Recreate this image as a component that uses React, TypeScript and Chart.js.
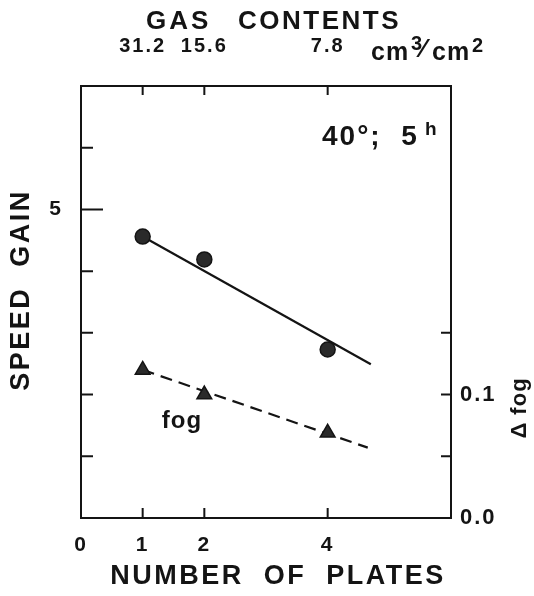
import React, { useEffect, useRef } from "react";
import { Chart, registerables } from "chart.js";

Chart.register(...registerables);

// ---- data ----
const plates = [1, 2, 4];
const speedGain = [4.56, 4.19, 2.73];
const fogDelta = [0.12, 0.1, 0.069];
const speedFitX = [1, 4.7];
const speedFitY = [4.56, 2.49];
const fogFitX = [1, 4.65];
const fogFitY = [0.12, 0.057];
const bottomTicks = [0, 1, 2, 4];
const topTicks = [1, 2, 4];
const gasContents = ["31.2", "15.6", "7.8"];
const leftTicks = [1, 2, 3, 4, 5, 6];
const leftLabelled = [5];
const rightTicks = [0, 0.05, 0.1, 0.15];
const rightLabels: Record<string, string> = { "0": "0.0", "0.1": "0.1" };

const INK = "#141414";
const FONT = "'Liberation Sans', Arial, sans-serif";

const decor = {
  id: "decor",
  beforeDraw(chart: any) {
    chart.ctx.letterSpacing = "2px";
  },
  afterDraw(chart: any) {
    const ctx = chart.ctx;
    const { left, right, top, bottom } = chart.chartArea;
    const sx = chart.scales.x;
    const sy = chart.scales.y;
    const sy2 = chart.scales.y2;
    ctx.save();
    ctx.strokeStyle = INK;
    ctx.lineWidth = 2;
    ctx.beginPath();
    leftTicks.forEach((v) => {
      const py = sy.getPixelForValue(v);
      const len = v === 5 ? 22 : 12;
      ctx.moveTo(left, py);
      ctx.lineTo(left + len, py);
    });
    rightTicks.forEach((v) => {
      if (v === 0) return;
      const py = sy2.getPixelForValue(v);
      ctx.moveTo(right, py);
      ctx.lineTo(right - 10, py);
    });
    topTicks.forEach((v) => {
      const px = sx.getPixelForValue(v);
      ctx.moveTo(px, bottom);
      ctx.lineTo(px, bottom - 10);
      ctx.moveTo(px, top);
      ctx.lineTo(px, top + 9);
    });
    ctx.stroke();

    ctx.fillStyle = INK;
    const txt = (s: string, x: number, y: number, font: string, ls: string, align: CanvasTextAlign = "center", rot = 0) => {
      ctx.save();
      ctx.font = font;
      ctx.letterSpacing = ls;
      ctx.textAlign = align;
      ctx.textBaseline = "middle";
      ctx.translate(x, y);
      if (rot) ctx.rotate(rot);
      ctx.fillText(s, 0, 0);
      ctx.restore();
    };
    txt("GAS", 146, 22, `bold 26px ${FONT}`, "3px", "left");
    txt("CONTENTS", 238, 22, `bold 26px ${FONT}`, "2.5px", "left");
    txt("NUMBER  OF  PLATES", 278, 577, `bold 27px ${FONT}`, "2.5px");
    txt("SPEED  GAIN", 22, 290, `bold 27px ${FONT}`, "2.5px", "center", -Math.PI / 2);
    txt("\u0394 fog", 520, 408, `bold 22px ${FONT}`, "1px", "center", -Math.PI / 2);
    txt("fog", 182, 421, `bold 24px ${FONT}`, "1px");
    txt("40\u00b0;  5", 322, 137, `bold 28px ${FONT}`, "2px", "left");
    txt("h", 425, 130, `bold 19px ${FONT}`, "0px", "left");
    txt("cm", 371, 53, `bold 25px ${FONT}`, "1px", "left");
    txt("3", 411, 44, `bold 20px ${FONT}`, "0px", "left");
    txt("\u2044", 421, 50, `bold 26px ${FONT}`, "0px", "left");
    txt("cm", 432, 53, `bold 25px ${FONT}`, "1px", "left");
    txt("2", 472, 46, `bold 20px ${FONT}`, "0px", "left");
    ctx.restore();
  },
};

export default function App() {
  const ref = useRef<HTMLCanvasElement | null>(null);
  useEffect(() => {
    if (!ref.current) return;
    const tickFont = { family: FONT, size: 21, weight: "bold" as const };
    const chart = new Chart(ref.current, {
      type: "scatter",
      data: {
        datasets: [
          {
            label: "speed gain",
            data: plates.map((x, i) => ({ x, y: speedGain[i] })),
            pointStyle: "circle",
            pointRadius: 7.5,
            backgroundColor: "#2a2a2a",
            borderColor: INK,
            borderWidth: 1.5,
            xAxisID: "x",
            yAxisID: "y",
            order: 0,
          },
          {
            label: "fog",
            data: plates.map((x, i) => ({ x, y: fogDelta[i] })),
            pointStyle: "triangle",
            pointRadius: 8.5,
            backgroundColor: "#2a2a2a",
            borderColor: INK,
            borderWidth: 1.5,
            xAxisID: "x",
            yAxisID: "y2",
            order: 0,
          },
          {
            label: "speed fit",
            data: speedFitX.map((x, i) => ({ x, y: speedFitY[i] })),
            showLine: true,
            pointRadius: 0,
            borderColor: INK,
            borderWidth: 2.2,
            xAxisID: "x",
            yAxisID: "y",
            order: 1,
          },
          {
            label: "fog fit",
            data: fogFitX.map((x, i) => ({ x, y: fogFitY[i] })),
            showLine: true,
            pointRadius: 0,
            borderColor: INK,
            borderWidth: 2.2,
            borderDash: [12, 7],
            xAxisID: "x",
            yAxisID: "y2",
            order: 1,
          },
        ],
      },
      options: {
        animation: false,
        responsive: true,
        maintainAspectRatio: false,
        layout: { padding: 0 },
        plugins: { legend: { display: false }, tooltip: { enabled: false } },
        scales: {
          x: {
            type: "linear",
            position: "bottom",
            min: 0,
            max: 6,
            grid: { display: false, drawTicks: false },
            border: { display: true, color: INK, width: 2 },
            afterBuildTicks: (s: any) => { s.ticks = bottomTicks.map((v) => ({ value: v })); },
            afterFit: (s: any) => { s.height = 78; },
            ticks: { color: INK, font: tickFont, padding: 15, maxRotation: 0, callback: (v: any) => String(v) },
          },
          x2: {
            type: "linear",
            position: "top",
            min: 0,
            max: 6,
            grid: { display: false, drawTicks: false },
            border: { display: true, color: INK, width: 2 },
            afterBuildTicks: (s: any) => { s.ticks = topTicks.map((v) => ({ value: v })); },
            afterFit: (s: any) => { s.height = 86; },
            ticks: {
              color: INK,
              font: { ...tickFont, size: 20 },
              padding: 28,
              maxRotation: 0,
              callback: (v: any) => gasContents[topTicks.indexOf(Number(v))] ?? "",
            },
          },
          y: {
            type: "linear",
            position: "left",
            min: 0,
            max: 7,
            grid: { display: false, drawTicks: false },
            border: { display: true, color: INK, width: 2 },
            afterBuildTicks: (s: any) => { s.ticks = leftTicks.map((v) => ({ value: v })); },
            afterFit: (s: any) => { s.width = 81; },
            ticks: {
              color: INK,
              font: tickFont,
              padding: 18,
              callback: (v: any) => (leftLabelled.includes(Number(v)) ? String(v) : ""),
            },
          },
          y2: {
            type: "linear",
            position: "right",
            min: 0,
            max: 0.35,
            grid: { display: false, drawTicks: false },
            border: { display: true, color: INK, width: 2 },
            afterBuildTicks: (s: any) => { s.ticks = rightTicks.map((v) => ({ value: v })); },
            afterFit: (s: any) => { s.width = 83; },
            ticks: {
              color: INK,
              font: { ...tickFont, size: 22 },
              padding: 9,
              callback: (v: any) => rightLabels[String(Math.round(Number(v) * 100) / 100)] ?? "",
            },
          },
        },
      },
      plugins: [decor],
    });
    return () => chart.destroy();
  }, []);
  return (
    <div style={{ position: "absolute", left: 0, top: 0, width: 534, height: 596, background: "#fff" }}>
      <canvas ref={ref} />
    </div>
  );
}
